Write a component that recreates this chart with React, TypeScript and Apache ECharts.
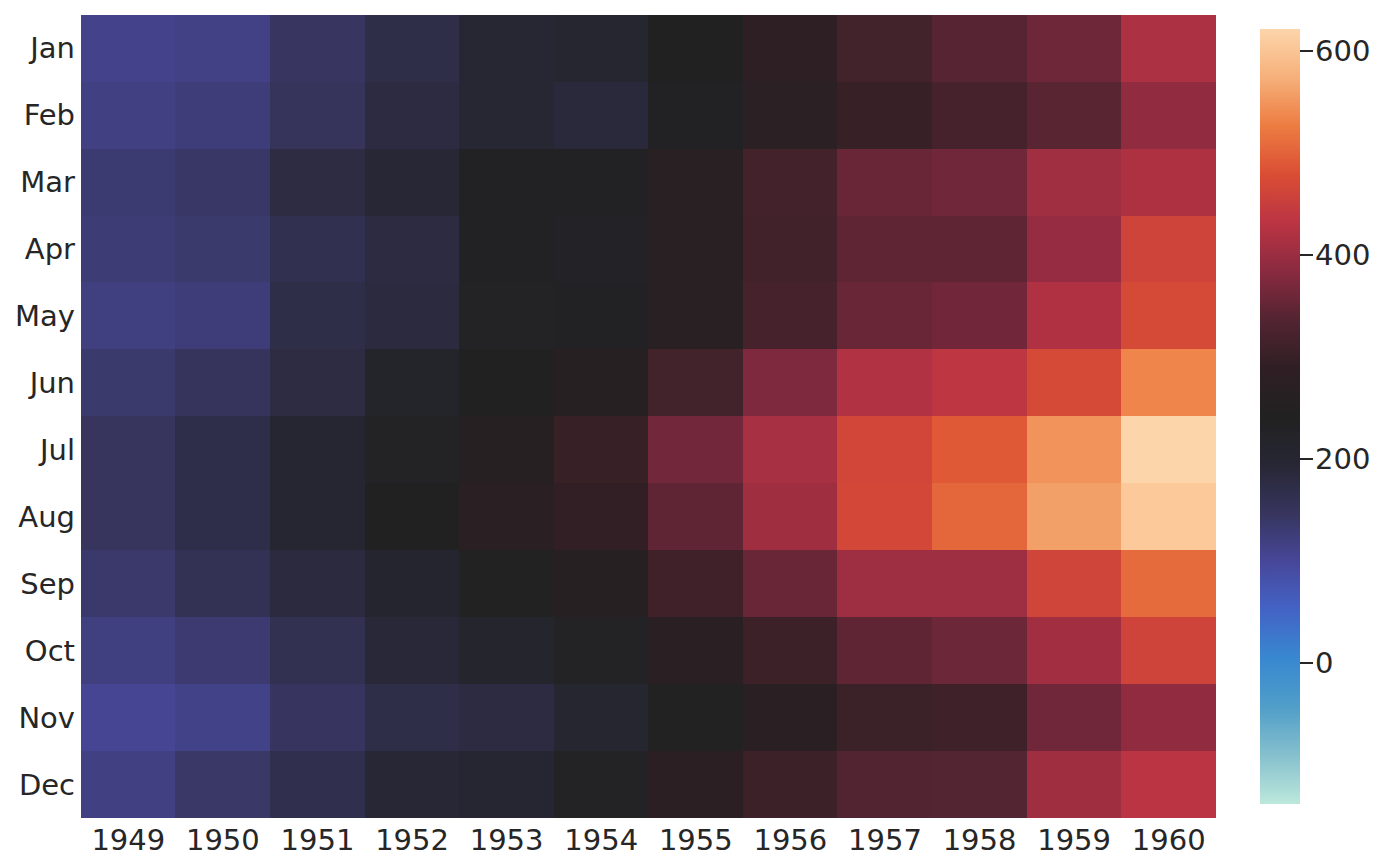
import React, { useEffect, useRef } from "react";
import * as echarts from "echarts";

const years = ["1949", "1950", "1951", "1952", "1953", "1954", "1955", "1956", "1957", "1958", "1959", "1960"];
const months = ["Jan", "Feb", "Mar", "Apr", "May", "Jun", "Jul", "Aug", "Sep", "Oct", "Nov", "Dec"];

const jan = [112, 115, 145, 171, 196, 204, 242, 284, 315, 340, 360, 417];
const feb = [118, 126, 150, 180, 196, 188, 233, 277, 301, 318, 342, 391];
const mar = [132, 141, 178, 193, 236, 235, 267, 317, 356, 362, 406, 419];
const apr = [129, 135, 163, 181, 235, 227, 269, 313, 348, 348, 396, 461];
const may = [121, 125, 172, 183, 229, 234, 270, 318, 355, 363, 420, 472];
const jun = [135, 149, 178, 218, 243, 264, 315, 374, 422, 435, 472, 535];
const jul = [148, 170, 199, 230, 264, 302, 364, 413, 465, 491, 548, 622];
const aug = [148, 170, 199, 242, 272, 293, 347, 405, 467, 505, 559, 606];
const sep = [136, 158, 184, 209, 237, 259, 312, 355, 404, 404, 463, 508];
const oct = [119, 133, 162, 191, 211, 229, 274, 306, 347, 359, 407, 461];
const nov = [104, 114, 146, 172, 180, 203, 237, 271, 305, 310, 362, 390];
const dec = [118, 140, 166, 194, 201, 229, 278, 306, 336, 337, 405, 432];

const rows = [jan, feb, mar, apr, may, jun, jul, aug, sep, oct, nov, dec];

const colorMin = -138;
const colorMax = 622;
const colorTicks = [0, 200, 400, 600];

const icefire = [
  "#bde8dc", "#86c0cd", "#509ec9", "#3888d0", "#4364c6", "#47479a", "#37355e", "#272735",
  "#212121", "#2f1f24", "#532431", "#8a2a40", "#bb3443", "#da4e34", "#ed7c42", "#f6b07a", "#fdd5ab",
];

const FONT = "DejaVu Sans";
const TXT = "#262626";
const FS = 29;

export default function App() {
  const ref = useRef<HTMLDivElement>(null);
  useEffect(() => {
    const chart = echarts.init(ref.current!, undefined, { renderer: "svg" });
    const data: number[][] = [];
    rows.forEach((r, yi) => r.forEach((v, xi) => data.push([xi, yi, v])));
    const stops = icefire.map((c, i) => ({ offset: i / (icefire.length - 1), color: c }));
    chart.setOption({
      animation: false,
      backgroundColor: "#ffffff",
      textStyle: { fontFamily: FONT },
      grid: [
        { left: 81, right: 184, top: 15, bottom: 48 },
        { left: 1260, width: 40, top: 29, bottom: 62 },
      ],
      xAxis: [
        {
          type: "category",
          data: years,
          gridIndex: 0,
          axisLine: { show: false },
          axisTick: { show: false },
          splitLine: { show: false },
          axisLabel: { interval: 0, hideOverlap: false, fontSize: FS, color: TXT, fontFamily: FONT, margin: 7 },
        },
        { type: "value", gridIndex: 1, min: 0, max: 1, show: false },
      ],
      yAxis: [
        {
          type: "category",
          data: months,
          inverse: true,
          gridIndex: 0,
          axisLine: { show: false },
          axisTick: { show: false },
          splitLine: { show: false },
          axisLabel: { interval: 0, hideOverlap: false, fontSize: FS, color: TXT, fontFamily: FONT, margin: 6 },
        },
        {
          type: "value",
          gridIndex: 1,
          position: "right",
          min: colorMin,
          max: colorMax,
          axisLine: { show: false },
          splitLine: { show: false },
          axisTick: { show: false },
          axisLabel: {
            show: true,
            customValues: colorTicks,
            fontSize: FS,
            color: TXT,
            fontFamily: FONT,
            margin: 15,
          },
        },
      ],
      visualMap: {
        show: false,
        type: "continuous",
        seriesIndex: 0,
        min: colorMin,
        max: colorMax,
        inRange: { color: icefire },
      },
      series: [
        {
          type: "heatmap",
          xAxisIndex: 0,
          yAxisIndex: 0,
          data,
          itemStyle: { borderWidth: 0 },
        },
        {
          type: "custom",
          xAxisIndex: 1,
          yAxisIndex: 1,
          data: [[0, 1, colorMin, colorMax]],
          renderItem: (params: any, api: any) => {
            const p1 = api.coord([api.value(0), api.value(3)]);
            const p2 = api.coord([api.value(1), api.value(2)]);
            return {
              type: "rect",
              shape: { x: p1[0], y: p1[1], width: p2[0] - p1[0], height: p2[1] - p1[1] },
              style: { fill: new echarts.graphic.LinearGradient(0, 1, 0, 0, stops) },
            };
          },
        },
        {
          type: "custom",
          xAxisIndex: 1,
          yAxisIndex: 1,
          data: colorTicks.map((v) => [1, v]),
          renderItem: (params: any, api: any) => {
            const p = api.coord([api.value(0), api.value(1)]);
            return {
              type: "line",
              shape: { x1: p[0], y1: p[1], x2: p[0] + 13, y2: p[1] },
              style: { stroke: TXT, lineWidth: 2 },
            };
          },
        },
      ],
    });
    return () => chart.dispose();
  }, []);
  return (
    <>
      <style>{`#hm svg path { shape-rendering: crispEdges; }`}</style>
      <div id="hm" ref={ref} style={{ width: 1400, height: 866, position: "absolute", left: 0, top: 0 }} />
    </>
  );
}
